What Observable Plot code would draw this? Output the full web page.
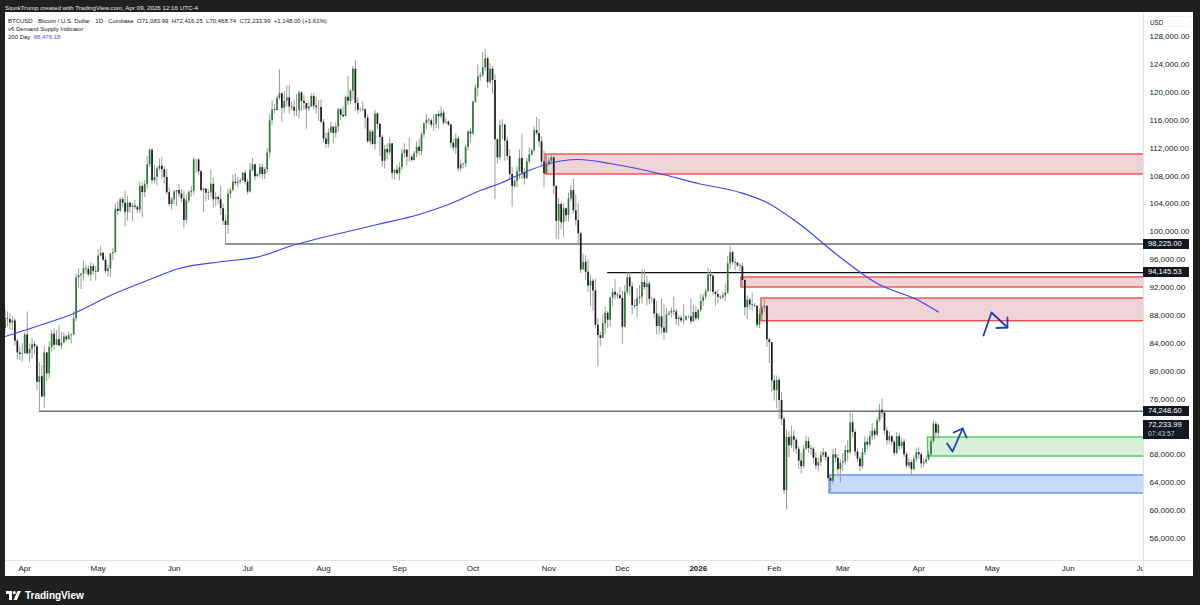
<!DOCTYPE html>
<html><head><meta charset="utf-8">
<script src="https://cdn.jsdelivr.net/npm/d3@7"></script>
<script src="https://cdn.jsdelivr.net/npm/@observablehq/plot@0.6"></script>
<style>
html,body{margin:0;padding:0;}
body{width:1200px;height:605px;background:#1f1f1f;position:relative;overflow:hidden;font-family:"Liberation Sans",Arial,sans-serif;}
#hdr{position:absolute;left:5px;top:4px;font-size:6.2px;line-height:8px;color:#e8e8e8;white-space:pre;}
#panel{position:absolute;left:5px;top:12px;width:1188px;height:564px;background:#fff;overflow:hidden;}
#chart{position:absolute;left:0;top:0;}
.legend{position:absolute;left:3px;font-size:6px;line-height:8px;color:#131722;white-space:pre;}
.vsep{position:absolute;left:1138px;top:0;width:1px;height:564px;background:#e0e3eb;}
.hsep{position:absolute;left:0;top:548px;width:1188px;height:1px;background:#e0e3eb;}
.mask{position:absolute;left:1139px;top:549px;width:49px;height:15px;background:#fff;}
.lvl{position:absolute;left:1138px;width:41px;padding-left:5px;background:#131722;color:#fff;font-size:7.6px;white-space:pre;}
.usd{position:absolute;left:1142px;top:4px;width:44px;height:11px;border:1px solid #f0f3fa;font-size:6.3px;line-height:11px;color:#131722;padding-left:2px;box-sizing:border-box;}
#logo{position:absolute;left:6px;top:589px;height:12px;display:flex;align-items:center;gap:4px;color:#fff;font-size:10px;font-weight:600;}
</style></head>
<body>
<div id="hdr">StonkTrump created with TradingView.com, Apr 09, 2026 12:16 UTC-4</div>
<div id="panel">
  <div id="chart"></div>
  <div class="vsep"></div><div class="hsep"></div><div class="mask"></div>
  <div class="legend" style="top:5px">BTCUSD · Bitcoin / U.S. Dollar · 1D · Coinbase  O71,083.99  H72,416.25  L70,468.74  C72,233.99  +1,148.00 (+1.61%)</div>
  <div class="legend" style="top:13px">v6 Demand Supply Indicator</div>
  <div class="legend" style="top:21px">200 Day  <span style="color:#4d4dff">88,476.18</span></div>
  <div class="usd">USD</div>
</div>
<div id="logo"><svg width="15" height="9" viewBox="0 0 15 9"><path d="M0 0h6v9h-3v-6h-3z" fill="#fff"/><circle cx="8.3" cy="1.6" r="1.6" fill="#fff"/><path d="M11.5 0h3.5l-4.2 9h-3.3z" fill="#fff"/></svg><span>TradingView</span></div>
<script>
// ---- daily candles: [close, high, low] in thousands USD; open = previous close ----
const firstOpen = 86.1;
const m2025_03 = [ // Mar 24-31
[87.5,88.8,85.5],[87.4,88.5,86.3],[86.9,88.3,85.9],[87.2,87.8,85.8],[84.3,87.5,83.6],[82.6,84.6,81.6],[82.4,83.5,81.5],[82.5,83.9,81.3]];
const m2025_04 = [
[85.2,85.5,82.4],[82.5,88.5,82.3],[83.1,83.9,81.2],[83.8,84.7,81.7],[83.5,84.2,82.4],[78.4,83.8,77.2],[79.2,81.2,74.4],[76.3,80.8,76.2],[82.6,83.5,74.6],[79.6,82.7,78.5],
[83.4,84.2,78.9],[85.3,85.8,82.7],[83.7,86.1,83.0],[84.5,85.8,83.7],[83.6,86.5,83.6],[84.0,85.5,83.1],[84.9,85.5,83.9],[84.5,85.1,84.2],[85.1,85.6,84.4],[85.2,85.3,83.9],
[87.5,88.5,85.1],[93.4,93.9,87.1],[93.7,94.7,91.9],[93.9,94.0,91.7],[94.7,95.8,92.9],[94.6,95.2,93.9],[93.8,95.1,93.5],[95.0,95.6,92.9],[94.3,95.4,93.8],[94.2,95.0,92.9]];
const m2025_05 = [
[96.5,97.4,94.1],[96.9,97.9,96.4],[95.9,97.0,95.7],[94.3,96.3,94.0],[94.7,95.2,93.5],[96.8,96.9,93.4],[97.0,97.6,95.8],[103.2,104.0,96.9],[102.9,104.3,102.3],[104.6,104.9,102.8],
[104.1,104.9,103.4],[102.8,105.8,100.7],[104.1,105.0,101.5],[103.5,104.3,102.6],[103.7,104.1,101.4],[103.5,104.5,103.1],[103.1,103.7,102.6],[106.5,107.1,102.6],[105.6,107.0,102.0],[106.8,107.3,104.9],
[109.6,110.8,106.1],[111.7,111.9,109.2],[107.3,111.9,106.8],[107.8,109.5,106.9],[109.0,109.3,106.6],[109.4,110.4,108.7],[108.9,110.7,107.5],[107.8,109.3,106.8],[105.6,108.9,105.3],[103.9,106.3,103.6],
[104.6,104.9,103.1]];
const m2025_06 = [
[105.7,105.9,103.8],[105.9,105.9,103.7],[105.4,106.8,104.9],[104.7,106.0,104.2],[101.6,105.9,100.4],[104.4,105.3,101.1],[105.6,105.9,104.1],[105.8,106.5,104.9],[110.3,110.6,105.3],[110.3,110.4,108.4],
[108.6,110.4,108.1],[105.9,108.8,105.7],[106.1,106.2,102.7],[105.5,106.2,104.3],[105.6,106.0,104.5],[106.8,108.9,104.9],[104.6,107.7,103.4],[104.9,105.6,103.6],[104.6,105.2,103.9],[103.3,106.5,102.3],
[101.5,104.0,100.9],[100.9,102.4,98.2],[105.4,106.1,99.6],[105.9,106.3,104.7],[107.1,108.1,105.7],[106.9,108.3,106.6],[107.1,107.8,106.3],[107.3,107.6,106.8],[108.4,108.5,107.2],[107.1,108.8,106.7]];
const m2025_07 = [
[105.7,107.5,105.3],[108.8,109.8,105.5],[109.6,110.5,108.6],[107.9,109.7,107.3],[108.2,108.4,107.8],[109.2,109.7,107.8],[108.2,109.7,107.5],[108.9,109.2,107.5],[111.3,111.9,108.4],[115.9,116.8,110.6],
[117.5,118.8,115.2],[117.4,118.2,116.9],[119.1,119.5,117.3],[119.8,123.2,118.9],[117.7,119.9,115.7],[118.7,120.1,117.0],[119.2,120.9,117.9],[117.9,121.0,116.9],[117.8,118.6,117.3],[117.3,118.8,116.5],
[117.4,119.7,116.5],[119.9,120.2,116.1],[118.7,120.1,117.3],[118.4,119.5,117.4],[117.6,118.1,114.7],[117.9,118.4,117.2],[119.4,119.8,117.8],[118.0,119.8,117.4],[117.8,119.3,116.9],[117.8,118.8,115.8],
[115.7,118.9,115.5]];
const m2025_08 = [
[113.3,116.1,112.7],[112.5,114.1,112.0],[114.2,114.7,112.0],[115.0,115.7,114.1],[114.1,115.1,112.6],[115.0,115.6,113.4],[117.5,117.7,114.3],[116.7,117.7,115.9],[116.5,117.9,116.3],[119.3,119.3,116.5],
[118.7,122.3,118.1],[120.2,120.3,118.2],[123.3,123.7,118.9],[118.4,124.5,117.2],[117.4,119.2,116.8],[117.4,117.7,117.2],[117.5,118.6,117.3],[116.3,117.6,114.7],[112.9,116.8,112.7],[114.3,114.6,112.4],
[112.5,114.6,112.4],[116.9,117.4,111.7],[115.4,117.0,114.6],[113.5,115.5,110.8],[110.1,113.8,109.3],[111.8,112.4,109.0],[111.3,112.6,110.3],[112.6,113.5,110.9],[108.4,112.6,107.5],[108.8,108.9,107.4],
[108.3,109.5,108.1]];
const m2025_09 = [
[109.2,109.9,107.3],[111.2,111.8,108.8],[111.7,112.6,110.5],[110.7,111.7,109.4],[110.7,113.4,110.0],[110.2,111.0,110.0],[111.2,111.5,110.2],[112.1,112.9,110.6],[111.5,113.3,110.9],[113.9,114.3,110.9],
[115.5,115.6,113.4],[116.0,116.8,114.6],[115.9,116.3,115.3],[115.3,116.1,114.9],[115.4,116.8,114.4],[116.8,116.9,114.8],[116.5,117.3,114.7],[117.0,117.9,116.2],[115.6,117.4,115.2],[115.7,116.3,115.4],
[115.3,115.9,115.1],[112.7,115.4,111.9],[112.0,113.3,111.5],[113.3,114.0,111.1],[109.0,113.6,108.6],[109.6,110.3,108.6],[109.7,109.8,109.0],[112.1,112.4,109.2],[114.3,114.5,111.6],[114.0,114.8,112.7]];
const m2025_10 = [
[118.6,118.7,113.9],[120.6,121.1,118.4],[122.2,123.9,119.3],[122.4,122.8,121.6],[123.5,125.7,122.1],[124.8,126.2,123.0],[121.4,125.0,120.6],[123.3,124.1,121.1],[121.7,123.7,119.7],[113.2,122.5,104.6],
[110.6,113.3,109.7],[115.2,115.9,110.2],[115.3,116.1,113.2],[113.0,115.3,110.1],[110.8,113.6,110.2],[108.2,111.8,107.5],[106.5,109.2,103.5],[107.2,107.5,106.3],[108.6,109.4,106.3],[110.5,111.7,107.5],
[108.4,114.0,107.5],[107.6,109.1,106.7],[110.0,110.6,107.5],[111.0,112.0,109.7],[111.6,111.9,110.8],[114.5,115.0,111.3],[114.1,116.4,113.8],[112.9,116.1,112.1],[110.0,113.6,109.4],[108.3,111.6,106.3],
[109.6,111.2,108.6]];
const m2025_11 = [
[110.1,110.6,109.4],[110.6,111.2,109.6],[106.5,110.8,105.3],[101.5,106.6,98.9],[103.9,104.8,98.9],[101.3,104.2,100.3],[103.3,104.0,99.2],[102.3,103.4,101.4],[104.7,105.5,101.4],[105.9,106.6,104.3],
[103.0,107.5,102.5],[101.6,105.3,100.8],[99.7,104.0,98.0],[94.5,99.9,94.0],[95.6,96.8,94.6],[94.2,96.6,93.0],[92.2,96.0,91.3],[92.9,93.8,89.3],[91.5,93.2,88.6],[86.6,93.2,86.1],
[85.1,87.5,80.6],[84.7,85.6,83.5],[86.8,88.1,84.7],[88.3,89.2,85.3],[87.3,88.6,86.1],[90.5,90.6,86.3],[91.3,91.9,89.3],[90.9,93.1,90.2],[90.8,91.2,90.3],[90.4,92.0,90.3]];
const m2025_12 = [
[86.3,91.5,83.8],[91.3,92.3,86.2],[93.4,94.1,91.0],[92.1,94.1,90.9],[89.4,92.7,88.1],[89.3,90.3,88.9],[90.4,91.8,87.7],[90.6,92.3,89.6],[92.7,94.6,89.6],[92.0,94.5,91.6],
[92.5,93.6,89.3],[90.3,92.8,89.5],[90.3,90.6,89.8],[88.2,90.5,87.6],[86.4,90.0,85.2],[87.8,88.2,85.3],[86.2,90.4,85.3],[85.5,89.5,84.4],[88.1,89.0,85.3],[88.3,88.6,87.9],
[88.6,89.1,87.6],[88.5,90.6,87.9],[87.4,88.9,86.6],[87.6,87.9,86.4],[87.2,88.0,86.9],[87.3,89.5,86.6],[87.8,88.0,87.2],[87.8,88.0,87.5],[87.1,90.4,86.7],[88.4,89.4,86.9],
[87.5,89.2,87.2]];
const m2026_01 = [
[88.7,88.9,87.2],[90.0,91.0,88.4],[90.6,91.0,89.3],[91.4,91.8,90.2],[93.8,94.8,91.3],[93.6,94.5,91.4],[91.3,93.8,90.8],[91.0,91.5,89.3],[90.6,91.7,89.6],[90.5,90.8,90.2],
[90.8,91.2,90.3],[91.2,92.5,90.0],[95.4,96.5,91.0],[97.0,97.9,94.6],[95.6,97.2,95.1],[95.5,96.0,94.4],[95.1,95.6,94.9],[95.0,95.4,94.3],[93.0,95.5,91.9],[89.1,93.2,87.9],
[90.2,90.8,87.4],[89.5,90.5,88.8],[89.4,91.2,88.6],[89.3,89.7,89.1],[86.6,89.3,86.2],[88.1,88.9,86.1],[89.1,89.4,87.3],[89.3,90.4,88.4],[84.5,89.2,83.4],[84.1,84.7,81.1],
[78.6,84.0,77.0]];
const m2026_02 = [
[77.2,79.4,75.7],[78.7,79.3,74.6],[75.8,79.1,73.0],[73.1,76.9,72.2],[62.9,73.4,62.3],[70.5,71.6,60.1],[69.3,71.3,67.6],[70.6,72.1,68.9],[70.1,71.4,68.3],[68.8,70.4,68.1],
[67.1,69.2,65.9],[66.3,68.3,65.2],[68.8,69.4,66.0],[69.9,70.7,68.6],[68.9,70.5,68.2],[68.8,69.3,67.9],[67.5,69.1,66.7],[66.4,68.3,65.9],[66.9,67.5,65.6],[67.9,68.4,66.4],
[68.3,68.9,67.6],[67.6,68.5,67.1],[64.6,67.8,64.2],[64.2,65.0,62.7],[68.0,68.8,63.8],[67.5,68.9,66.8],[65.9,68.0,65.1],[66.8,67.3,63.9]];
const m2026_03 = [
[67.0,68.2,65.6],[68.6,69.3,66.5],[68.3,70.0,67.0],[72.6,74.2,68.0],[71.2,73.9,70.4],[68.4,71.6,67.8],[67.4,68.8,66.9],[66.3,67.7,65.6],[68.3,68.9,65.9],[69.8,70.6,67.9],
[69.4,70.4,68.7],[70.6,71.3,69.1],[71.4,72.5,70.0],[70.8,71.8,70.2],[72.9,73.4,70.6],[74.4,75.2,72.6],[74.0,76.0,73.3],[71.4,74.4,70.8],[70.0,71.9,69.4],[70.6,71.3,69.5],
[69.8,70.8,69.3],[68.2,70.1,67.7],[70.6,71.2,68.0],[69.2,71.0,68.6],[69.8,70.4,68.8],[68.0,70.2,67.6],[66.4,68.4,66.0],[66.9,67.4,66.1],[65.9,67.2,65.1],[67.4,67.9,65.6],
[68.3,68.9,66.9]];
const m2026_04 = [
[68.0,69.0,67.3],[66.7,68.3,66.0],[66.9,67.4,66.2],[67.3,67.8,66.6],[68.0,68.5,67.1],[69.9,70.4,67.8],[72.4,72.8,69.6],[71.086,72.7,70.6],[72.23399,72.41625,70.46874]];

// ---- 200-day moving average ----
const maDates = ["2025-03-24","2025-04-07","2025-04-21","2025-05-06","2025-05-21","2025-06-03","2025-06-21","2025-07-06","2025-07-18","2025-07-30","2025-08-11","2025-08-23","2025-09-09","2025-09-21","2025-10-04","2025-10-12","2025-10-22","2025-11-01","2025-11-13","2025-11-26","2025-12-16","2026-01-01","2026-01-18","2026-01-29","2026-02-11","2026-02-27","2026-03-15","2026-04-01","2026-04-09"];
const maValues = [84971,86549,88270,90852,93003,94725,95729,96446,97880,99028,100032,101036,102470,103905,105912,106916,108494,109785,110358,109785,108350,106916,105625,104191,101179,96589,92573,90135,88476.18];

// ---- horizontal levels ----
const grayLevelStarts = ["2025-06-22","2025-04-07"];
const grayLevelPrices = [98225.00, 74248.60];
const blackLevelStarts = ["2025-11-25"];
const blackLevelPrices = [94145.53];
const lastPrice = 72233.99;
const lastTimer = "07:43:57";

// ---- zones ----
const supplyStarts = ["2025-10-30T14:00","2026-01-18T14:00","2026-01-26T19:00"];
const supplyTops = [111075, 93433, 90422];
const supplyBottoms = [108207, 92000, 87167];
const greenZone = {start:"2026-04-04T19:00", top:70485, bottom:67760};
const blueZone = {start:"2026-02-23T14:00", top:65035, bottom:62453};

// ---- hand-drawn arrows ----
const arrow1Shaft = [["2026-04-27T10:00",85114],["2026-04-30T17:00",88413],["2026-05-07T05:00",86262]];
const arrow1Head  = [["2026-05-02T17:00",86190],["2026-05-07T05:00",86262],["2026-05-07T05:00",87696]];
const arrow2Shaft = [["2026-04-12T14:00",69624],["2026-04-14T19:00",68477],["2026-04-18T22:00",71775]];
const arrow2Head  = [["2026-04-15T05:00",71202],["2026-04-18T22:00",71775],["2026-04-20T12:00",70485]];

// ---- axes (72,000 sits under the last-price label, so it is not shown) ----
const yTicks = [56000,60000,64000,68000,76000,80000,84000,88000,92000,96000,100000,104000,108000,112000,116000,120000,124000,128000];
const monthTicks = ["2025-04-01","2025-05-01","2025-06-01","2025-07-01","2025-08-01","2025-09-01","2025-10-01","2025-11-01","2025-12-01","2026-02-01","2026-03-01","2026-04-01","2026-05-01","2026-06-01","2026-07-01"];
const yearTicks = ["2026-01-01"];

// ---- build ----
const seriesStart = new Date("2025-03-24T00:00Z");
const rows = [m2025_03,m2025_04,m2025_05,m2025_06,m2025_07,m2025_08,m2025_09,m2025_10,m2025_11,m2025_12,m2026_01,m2026_02,m2026_03,m2026_04].flat();
const candles = rows.map((r, i) => {
  const open = (i === 0 ? firstOpen : rows[i-1][0]) * 1000;
  return {date: d3.utcDay.offset(seriesStart, i), open, close: r[0]*1000, high: r[1]*1000, low: r[2]*1000};
});
const toD = s => new Date(s.length <= 10 ? s + "T00:00Z" : s + "Z");
const ma = maDates.map((d, i) => ({date: toD(d), v: maValues[i]}));
const grayLevels = grayLevelStarts.map((d, i) => ({start: toD(d), price: grayLevelPrices[i]}));
const blackLevels = blackLevelStarts.map((d, i) => ({start: toD(d), price: blackLevelPrices[i]}));
const supply = supplyStarts.map((d, i) => ({start: toD(d), top: supplyTops[i], bottom: supplyBottoms[i]}));
const green = [{start: toD(greenZone.start), top: greenZone.top, bottom: greenZone.bottom}];
const blue = [{start: toD(blueZone.start), top: blueZone.top, bottom: blueZone.bottom}];
const pts = a => a.map(([d, p]) => ({date: toD(d), p}));
const zoneEnd = new Date("2026-07-25T00:00Z");
const xDomain = [new Date("2025-03-24T04:00Z"), new Date("2026-07-01T18:00Z")];

const upColor = "#2f7a3b", downColor = "#1c1c1c", wickColor = "#9b9b9b";
const arrowColor = "#1f3fae";

const chart = Plot.plot({
  width: 1188, height: 564,
  marginLeft: 0, marginRight: 50, marginTop: 0, marginBottom: 16,
  style: {background: "transparent", color: "#131722", fontFamily: "'Liberation Sans', Arial, sans-serif", fontSize: "8px", overflow: "visible"},
  x: {type: "utc", domain: xDomain},
  y: {domain: [52842, 131442]},
  marks: [
    Plot.rect(supply, {x1: "start", x2: () => zoneEnd, y1: "bottom", y2: "top", fill: "#f0d3d7", stroke: "#f44c4c", strokeWidth: 1.4, clip: true}),
    Plot.rect(green, {x1: "start", x2: () => zoneEnd, y1: "bottom", y2: "top", fill: "#d8f0da", stroke: "#4fc95b", strokeWidth: 1.4, clip: true}),
    Plot.rect(blue, {x1: "start", x2: () => zoneEnd, y1: "bottom", y2: "top", fill: "#c7dbfa", stroke: "#5b8ff0", strokeWidth: 1.4, clip: true}),
    Plot.ruleY(grayLevels, {y: "price", x1: "start", x2: () => zoneEnd, stroke: "#6f6f6f", strokeWidth: 1.5, clip: true}),
    Plot.ruleY(blackLevels, {y: "price", x1: "start", x2: () => zoneEnd, stroke: "#111", strokeWidth: 1.2, clip: true}),
    Plot.ruleX(candles, {x: "date", y1: "low", y2: "high", stroke: wickColor, strokeWidth: 1, clip: true}),
    Plot.ruleX(candles, {x: "date", y1: "open", y2: "close", stroke: d => d.close >= d.open ? upColor : downColor, strokeWidth: 1.7, clip: true}),
    Plot.line(ma, {x: "date", y: "v", stroke: "#3c46f2", strokeWidth: 1.2, curve: "monotone-x", clip: true}),
    Plot.line(pts(arrow1Shaft), {x: "date", y: "p", stroke: arrowColor, strokeWidth: 1.8, strokeLinejoin: "round"}),
    Plot.line(pts(arrow1Head), {x: "date", y: "p", stroke: arrowColor, strokeWidth: 1.8, strokeLinejoin: "round"}),
    Plot.line(pts(arrow2Shaft), {x: "date", y: "p", stroke: arrowColor, strokeWidth: 1.8, strokeLinejoin: "round"}),
    Plot.line(pts(arrow2Head), {x: "date", y: "p", stroke: arrowColor, strokeWidth: 1.8, strokeLinejoin: "round"}),
    Plot.axisY({anchor: "right", ticks: yTicks, tickSize: 0, tickPadding: 6, fontSize: 8, tickFormat: d => d3.format(",.2f")(d)}),
    Plot.axisX({anchor: "bottom", ticks: monthTicks.map(toD), tickSize: 0, tickPadding: 5, fontSize: 8, tickFormat: d3.utcFormat("%b")}),
    Plot.axisX({anchor: "bottom", ticks: yearTicks.map(toD), tickSize: 0, tickPadding: 5, fontSize: 8, fontWeight: "bold", tickFormat: d3.utcFormat("%Y")})
  ]
});
document.getElementById("chart").appendChild(chart);

// price-axis labels positioned through the chart's own y scale
const ys = chart.scale("y");
const panel = document.getElementById("panel");
const fmt = d3.format(",.2f");
function box(value, lines) {
  const el = document.createElement("div");
  el.className = "lvl";
  el.style.top = (ys.apply(value) - 5) + "px";
  el.innerHTML = lines.map((t, i) => `<div style="height:${i ? 9 : 10}px;line-height:${i ? 8 : 10}px;color:${i ? '#c8c8c8' : '#fff'};font-size:${i ? 6.8 : 7.6}px">${t}</div>`).join("");
  panel.appendChild(el);
}
grayLevelPrices.forEach(p => box(p, [fmt(p)]));
blackLevelPrices.forEach(p => box(p, [fmt(p)]));
box(lastPrice, [fmt(lastPrice), lastTimer]);
</script>
</body></html>
